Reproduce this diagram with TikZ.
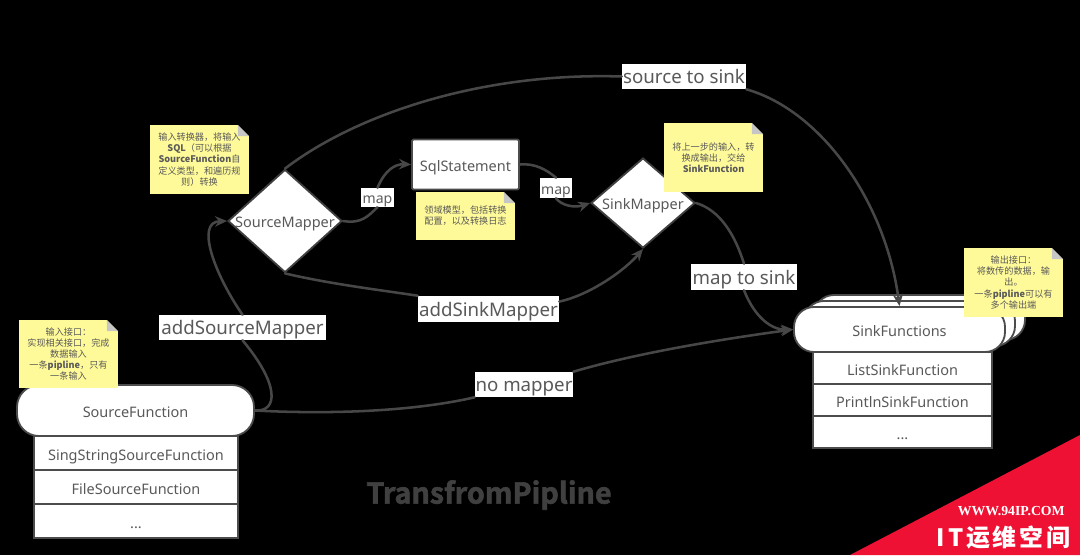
\documentclass[tikz,border=0pt]{standalone}
\usepackage{fontspec}
\usepackage{xcolor}
\usepackage{tikz}
\usetikzlibrary{arrows.meta,shapes.geometric}
\setmainfont{Noto Sans}
\newfontfamily\cjk{Noto Sans CJK SC}
\newfontfamily\titlefont[FakeBold=2]{Noto Sans CJK SC Bold}
\newfontfamily\wmserif{Liberation Serif}
\newfontfamily\wmcjk[LetterSpace=12]{Noto Sans CJK SC}
\definecolor{wmred}{HTML}{EE1133}
\tikzset{
  fnbox/.style={draw=black!70,line width=1.3pt,fill=white,text=black!65,rounded corners=0.55cm,font=\fontsize{10.3}{12}\selectfont,text height=10pt,text depth=0pt},
  rowbox/.style={draw=black!70,line width=1.3pt,fill=white,text=black!65,font=\fontsize{10.3}{12}\selectfont,inner sep=0pt,text height=10pt,text depth=0pt},
  mapperbox/.style={diamond,draw=black!75,line width=1.3pt,fill=white,text=black!65,inner sep=0pt,font=\fontsize{10.3}{12}\selectfont,text height=9pt,text depth=0pt},
  notebox/.style={fill=yellow!40!white,text=black!65,minimum width=2.475cm,inner sep=0pt,align=center,font=\cjk\fontsize{6.5}{8}\selectfont,
    execute at begin node=\rule{0pt}{9pt},
    path picture={
      \fill[black] (path picture bounding box.north east) ++(-0.28,0) -- ++(0.28,0) -- ++(0,-0.28) -- cycle;
      \fill[gray!45] (path picture bounding box.north east) ++(-0.28,0) -- ++(0,-0.28) -- ++(0.28,0) -- cycle;
    }},
  wirelabel/.style={fill=white,text=black!65,inner sep=0pt,font=\fontsize{13.3}{15}\selectfont,text height=10.6pt,text depth=0pt},
  maplabel/.style={wirelabel,font=\fontsize{10}{12}\selectfont,text height=8.6pt},
  wire/.style={draw=black!72,line width=1.8pt},
}
\begin{document}
\begin{tikzpicture}[>={Stealth[length=3mm,width=2.6mm]},line cap=round]
\useasboundingbox (0,0) rectangle (27,13.875);
\fill[black] (0,0) rectangle (27,13.875);
\node[fnbox,minimum width=5.925cm,minimum height=1.275cm] (sourcefn) at (3.3875,3.6125) {SourceFunction};
\node[rowbox,minimum width=5.1cm,minimum height=0.85cm] (rowsing) at (3.4,2.55) {SingStringSourceFunction};
\node[rowbox,minimum width=5.1cm,minimum height=0.85cm] (rowfile) at (3.4,1.7) {FileSourceFunction};
\node[rowbox,minimum width=5.1cm,minimum height=0.85cm] (rowsrcdots) at (3.4,0.85) {...};
\node[fnbox,minimum width=5.275cm,minimum height=1.125cm,rounded corners=0.5cm] (sinkback2) at (22.9875,5.9375) {};
\node[fnbox,minimum width=5.275cm,minimum height=1.125cm,rounded corners=0.5cm] (sinkback1) at (22.7375,5.7875) {};
\node[fnbox,minimum width=5.275cm,minimum height=1.125cm,rounded corners=0.5cm] (sinkfn) at (22.4875,5.6375) {SinkFunctions};
\node[rowbox,minimum width=4.475cm,minimum height=0.8cm] (rowlist) at (22.5625,4.675) {ListSinkFunction};
\node[rowbox,minimum width=4.475cm,minimum height=0.8cm] (rowprint) at (22.5625,3.875) {PrintlnSinkFunction};
\node[rowbox,minimum width=4.475cm,minimum height=0.8cm] (rowsinkdots) at (22.5625,3.075) {...};
\node[mapperbox,minimum width=2.85cm,minimum height=2.575cm] (sourcemap) at (7.125,8.35) {\makebox[0pt]{SourceMapper}};
\node[mapperbox,minimum width=2.6cm,minimum height=2.25cm] (sinkmap) at (16.075,8.8) {\makebox[0pt]{SinkMapper}};
\node[fnbox,rounded corners=1pt,minimum width=2.675cm,minimum height=1.25cm] (sqlstate) at (11.6375,9.7625) {SqlStatement};
\node[wirelabel,minimum width=3.1cm,minimum height=0.625cm] (lblsrc) at (17.1,11.9625) {source to sink};
\node[maplabel,minimum width=0.825cm,minimum height=0.475cm] (lblmapa) at (9.4375,8.9375) {map};
\node[maplabel,minimum width=0.8cm,minimum height=0.5cm] (lblmapb) at (13.9,9.175) {map};
\node[wirelabel,minimum width=3.525cm,minimum height=0.65cm] (lbladdsink) at (12.2125,6.15) {addSinkMapper};
\node[wirelabel,minimum width=2.65cm,minimum height=0.65cm] (lblsink) at (18.6,6.95) {map to sink};
\node[wirelabel,minimum width=4.175cm,minimum height=0.625cm] (lbladd) at (6.0625,5.6875) {addSourceMapper};
\node[wirelabel,minimum width=2.45cm,minimum height=0.625cm] (lblno) at (13.1,4.2625) {no mapper};
\draw[wire] (sourcefn.east) .. controls (6.95,3.575) and (7.0,4.25) .. (lbladd.south);
\draw[wire,->] (lbladd.north) .. controls (5.375,7.0) and (4.875,8.325) .. (sourcemap.west);
\draw[wire] (sourcemap.north) .. controls (8.875,11.0) and (12.0,12.075) .. (lblsrc.west);
\draw[wire,->] (lblsrc.south east) .. controls (20.5,11.125) and (22.125,8.875) .. (sinkfn.north);
\draw[wire] (sourcemap.east) .. controls (9.05,8.275) and (9.2,8.475) .. (lblmapa.south);
\draw[wire,->] (lblmapa.north) .. controls (9.625,9.625) and (9.875,9.775) .. (sqlstate.west);
\draw[wire] (sqlstate.east) .. controls (13.375,9.8) and (13.675,9.625) .. (lblmapb.north);
\draw[wire,->] (lblmapb.south) .. controls (14.05,8.725) and (14.375,8.675) .. (sinkmap.west);
\draw[wire] (sourcemap.south) .. controls (8.25,6.775) and (9.5,6.625) .. (lbladdsink.north west);
\draw[wire,->] (lbladdsink.6) .. controls (14.75,6.5) and (15.625,7.125) .. (sinkmap.south);
\draw[wire] (sinkmap.east) .. controls (18,8.625) and (18.375,8.0) .. (lblsink.north);
\draw[wire,->] (lblsink.south) .. controls (18.875,5.925) and (19.3,5.625) .. (sinkfn.west);
\draw[wire] (sourcefn.east) .. controls (8.5,3.5) and (10.5,3.625) .. (lblno.south west);
\draw[wire,->] (lblno.north east) .. controls (16,5.075) and (18.25,5.425) .. (sinkfn.west);
\node[notebox,minimum height=1.7cm] (notesource) at (1.7125,5.025) {输入接口：\\实现相关接口，完成\\数据输入\\一条{\bfseries pipline}，只有\\一条输入};
\node[notebox,minimum height=1.725cm] (notemapper) at (4.9875,9.8875) {输入转换器，将输入\\{\bfseries SQL}（可以根据\\{\bfseries SourceFunction}自\\定义类型，和遍历规\\则）转换};
\node[notebox,minimum height=1.2cm] (notesql) at (11.6375,8.475) {领域模型，包括转换\\配置，以及转换日志};
\node[notebox,minimum height=1.725cm] (notesinkmap) at (17.8375,9.9375) {将上一步的输入，转\\换成输出，交给\\{\bfseries SinkFunction}};
\node[notebox,minimum height=1.725cm] (notesink) at (25.3375,6.8125) {输出接口：\\将数传的数据，输\\出。\\一条{\bfseries pipline}可以有\\多个输出端};
\node[text=black!75,font=\titlefont\fontsize{20.4}{24}\selectfont] (title) at (12.225,1.5) {TransfromPipline};
\fill[wmred] (27,3) -- (27,0) -- (21.25,0) -- cycle;
\node[text=white,font=\wmserif\bfseries\fontsize{9.8}{12}\selectfont,inner sep=0pt] (wmurl) at (25.28,1.1) {WWW.94IP.COM};
\node[text=white,font=\wmcjk\bfseries\fontsize{17}{20}\selectfont,inner sep=0pt] (wmname) at (25.09,0.45) {IT运维空间};
\end{tikzpicture}
\end{document}
